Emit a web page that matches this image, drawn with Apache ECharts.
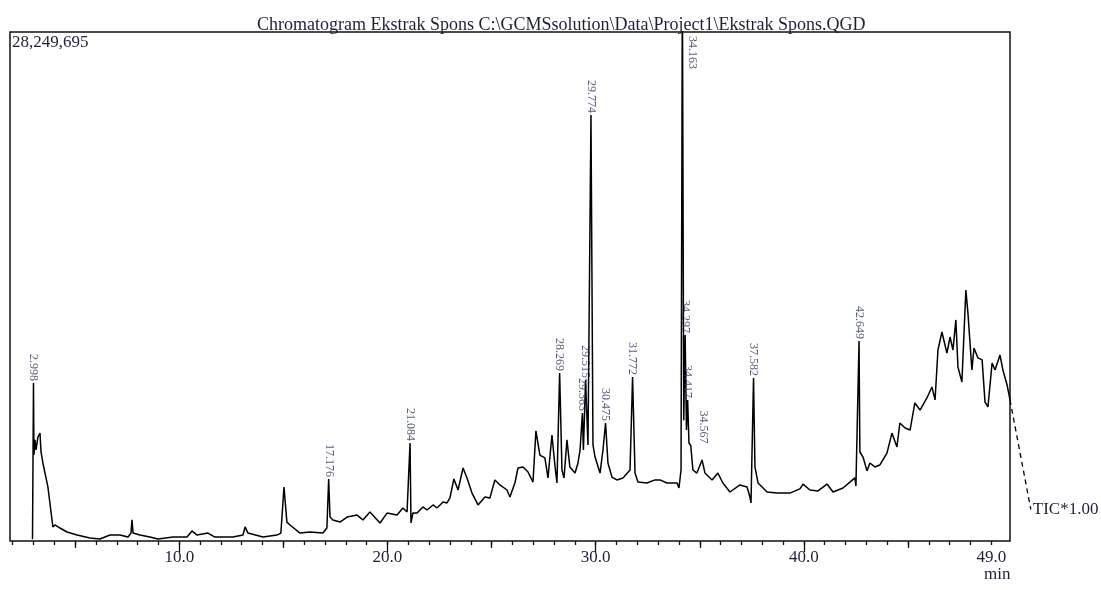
<!DOCTYPE html>
<html><head><meta charset="utf-8">
<script src="https://cdn.jsdelivr.net/npm/echarts@6/dist/echarts.min.js"></script>
<style>html,body{margin:0;padding:0;background:#fff}#c{width:1101px;height:590px}</style>
</head><body><div id="c"></div>
<script>
const chartTitle = 'Chromatogram Ekstrak Spons C:\\GCMSsolution\\Data\\Project1\\Ekstrak Spons.QGD';
const yMaxCounts = 28249695;
const xMin = 1.87, xMax = 49.9;
const xUnit = 'min';
const ticLabel = 'TIC*1.00';

// retention time (min)
const retentionTime = [2.95, 2.998, 3.02, 3.07, 3.12, 3.21, 3.31, 3.36, 3.45, 3.69, 3.93, 4.03, 4.27, 4.61, 5.09, 5.71, 6.19, 6.67, 7.15, 7.54, 7.68, 7.73, 7.78, 8.11, 8.59, 8.98, 9.70, 10.37, 10.61, 10.85, 11.38, 11.71, 12.58, 13.06, 13.16, 13.30, 14.02, 14.69, 14.88, 15.03, 15.17, 15.32, 15.80, 16.28, 16.90, 17.09, 17.176, 17.24, 17.38, 17.72, 18.06, 18.54, 18.82, 19.16, 19.64, 19.98, 20.46, 20.74, 20.94, 21.084, 21.13, 21.22, 21.42, 21.70, 21.90, 22.19, 22.38, 22.67, 22.86, 23.00, 23.19, 23.39, 23.63, 23.82, 24.06, 24.35, 24.68, 24.92, 25.16, 25.40, 25.74, 25.88, 26.12, 26.27, 26.51, 26.75, 26.99, 27.13, 27.32, 27.56, 27.71, 27.90, 28.04, 28.14, 28.269, 28.38, 28.48, 28.62, 28.76, 29.01, 29.15, 29.25, 29.363, 29.41, 29.515, 29.63, 29.774, 29.87, 29.97, 30.21, 30.35, 30.475, 30.59, 30.78, 31.02, 31.31, 31.65, 31.772, 31.89, 32.03, 32.46, 32.85, 33.09, 33.42, 33.91, 34.00, 34.10, 34.163, 34.23, 34.297, 34.36, 34.417, 34.48, 34.567, 34.67, 34.86, 35.11, 35.25, 35.59, 35.87, 36.11, 36.45, 36.93, 37.27, 37.41, 37.46, 37.582, 37.65, 37.80, 38.04, 38.23, 38.71, 39.33, 39.81, 39.96, 40.29, 40.68, 41.11, 41.40, 41.88, 42.21, 42.45, 42.50, 42.649, 42.69, 42.84, 43.03, 43.17, 43.41, 43.65, 43.99, 44.23, 44.47, 44.61, 44.86, 45.10, 45.33, 45.58, 45.91, 46.15, 46.30, 46.44, 46.63, 46.87, 47.02, 47.16, 47.30, 47.40, 47.59, 47.78, 47.88, 48.07, 48.17, 48.36, 48.56, 48.70, 48.84, 49.04, 49.18, 49.42, 49.56, 49.76, 49.90];

// TIC intensity (millions of counts)
const intensityM = [0.10, 8.77, 4.77, 5.61, 5.05, 5.77, 5.99, 4.94, 4.33, 3.00, 0.78, 0.89, 0.72, 0.50, 0.33, 0.17, 0.11, 0.33, 0.33, 0.22, 0.44, 1.17, 0.44, 0.33, 0.22, 0.11, 0.22, 0.22, 0.56, 0.33, 0.44, 0.22, 0.22, 0.33, 0.78, 0.44, 0.22, 0.33, 0.44, 3.00, 1.05, 0.89, 0.44, 0.50, 0.44, 0.72, 3.44, 1.33, 1.17, 1.05, 1.33, 1.44, 1.17, 1.61, 1.00, 1.55, 1.44, 1.83, 1.61, 5.44, 1.00, 1.55, 1.55, 1.89, 1.72, 2.00, 1.83, 2.16, 2.11, 2.39, 3.44, 2.83, 4.05, 3.50, 2.66, 2.00, 2.44, 2.39, 3.39, 3.11, 2.83, 2.44, 3.22, 4.05, 4.11, 3.83, 3.27, 6.11, 4.77, 4.61, 3.50, 5.88, 4.22, 3.22, 9.32, 3.94, 3.50, 5.61, 4.11, 3.77, 4.33, 5.05, 7.10, 5.05, 8.94, 5.33, 23.64, 5.33, 4.66, 3.77, 5.05, 6.55, 4.33, 3.55, 3.39, 3.50, 3.94, 9.10, 3.77, 3.27, 3.22, 3.39, 3.39, 3.22, 3.22, 2.94, 3.94, 31.0, 6.70, 11.43, 6.16, 7.83, 5.44, 5.30, 3.94, 3.77, 4.50, 3.77, 3.39, 3.77, 3.22, 2.72, 3.11, 3.00, 2.44, 2.11, 9.05, 4.11, 3.22, 2.94, 2.72, 2.66, 2.66, 2.89, 3.16, 2.83, 2.78, 3.16, 2.72, 2.94, 3.27, 3.50, 3.05, 11.10, 4.94, 4.66, 3.89, 4.33, 4.11, 4.22, 4.88, 5.99, 5.22, 6.55, 6.27, 6.16, 7.66, 7.27, 7.94, 8.55, 7.83, 10.60, 11.60, 10.43, 11.32, 10.60, 12.27, 9.66, 8.82, 13.93, 12.65, 9.49, 10.71, 10.16, 10.05, 7.71, 7.44, 9.88, 9.49, 10.32, 9.49, 8.66, 7.83];

// labelled peaks (retention time, min)
const peakLabelTimes = [2.998, 17.176, 21.084, 28.269, 29.363, 29.515, 29.774, 30.475, 31.772, 34.163, 34.297, 34.417, 34.567, 37.582, 42.649];

// axis ticks
const minorTickTimes = [2,3,4,5,6,7,8,9,10,11,12,13,14,15,16,17,18,19,20,21,22,23,24,25,26,27,28,29,30,31,32,33,34,35,36,37,38,39,40,41,42,43,44,45,46,47,48,49];
const midTickTimes = [5, 15, 25, 35, 45];
const majorTickTimes = [10, 20, 30, 40];
const tickLabelTimes = [10, 20, 30, 40, 49];

// leader line to the TIC label
const ticLeaderTime = [49.90, 50.90];
const ticLeaderIntensity = [7.83, 1.75];

const yMax = yMaxCounts / 1e6;
const serif = '"Liberation Serif", "DejaVu Serif", serif';
const textColor = '#1e2038';
const peakColor = '#2a3460';

const trace = retentionTime.map((t, i) => [t, intensityM[i]]);
const leader = ticLeaderTime.map((t, i) => [t, ticLeaderIntensity[i]]);

// main plot box: 10..1010 px; leader grid extends 30 px further right with same scale
const gridLeft = 10, gridRight = 91, leaderExtra = 30;
const plotW = 1101 - gridLeft - gridRight;
const xMaxLeader = xMin + (xMax - xMin) * (plotW + leaderExtra) / plotW;

const peakSpecial = {
  '34.163': { position: 'bottom', align: 'left', offset: [0, -10], distance: 4 },
  '34.567': { offset: [0, -12] }
};
const peakData = peakLabelTimes.map(t => {
  const idx = retentionTime.indexOf(t);
  const v = Math.min(intensityM[idx], yMax);
  const item = { value: [t, v] };
  const sp = peakSpecial[t.toFixed(3)];
  if (sp) item.label = sp;
  return item;
});

function xAxisDef(ticks, len, labels) {
  return {
    type: 'value', min: xMin, max: xMax, position: 'bottom', gridIndex: 0,
    axisLine: { show: false, onZero: false },
    splitLine: { show: false },
    axisTick: { show: true, customValues: ticks, length: len, lineStyle: { color: '#111', width: 1.3 } },
    axisLabel: labels ? {
      show: true, customValues: labels, margin: 8,
      formatter: v => v.toFixed(1),
      fontFamily: serif, fontSize: 17, color: textColor
    } : { show: false }
  };
}

const chart = echarts.init(document.getElementById('c'), null, { renderer: 'canvas' });
chart.setOption({
  animation: false,
  backgroundColor: '#fff',
  title: {
    text: chartTitle, left: 252, top: 11,
    textStyle: { fontFamily: serif, fontSize: 18, fontWeight: 'normal', color: textColor }
  },
  grid: [
    { left: gridLeft, right: gridRight, top: 32, bottom: 49, show: true, borderColor: '#111', borderWidth: 1.5, backgroundColor: 'transparent' },
    { left: gridLeft, right: gridRight - leaderExtra, top: 32, bottom: 49, show: false }
  ],
  xAxis: [
    xAxisDef(minorTickTimes, 4, tickLabelTimes),
    xAxisDef(midTickTimes, 7, null),
    xAxisDef(majorTickTimes, 11, null),
    { type: 'value', gridIndex: 1, min: xMin, max: xMaxLeader, show: false }
  ],
  yAxis: [
    {
      type: 'value', min: 0, max: yMax, gridIndex: 0,
      axisLine: { show: false }, axisTick: { show: false }, splitLine: { show: false },
      axisLabel: {
        show: true, inside: true, customValues: [yMax], margin: 2,
        formatter: v => Math.round(v * 1e6).toLocaleString('en-US'),
        verticalAlign: 'top', padding: [2, 0, 0, 0],
        fontFamily: serif, fontSize: 17, color: textColor
      }
    },
    { type: 'value', gridIndex: 1, min: 0, max: yMax, show: false }
  ],
  graphic: [{
    type: 'text', left: 984, top: 566,
    style: { text: xUnit, font: '17px ' + serif, fill: textColor }
  }],
  series: [
    {
      type: 'line', data: trace, xAxisIndex: 0, yAxisIndex: 0, showSymbol: false, symbol: 'none',
      lineStyle: { color: '#000', width: 1.5 }, clip: true, z: 3
    },
    {
      type: 'line', data: leader, xAxisIndex: 3, yAxisIndex: 1, showSymbol: false, symbol: 'none', clip: false,
      lineStyle: { color: '#000', width: 1.3, type: [5, 4] },
      endLabel: { show: true, formatter: ticLabel, distance: 2, fontFamily: serif, fontSize: 17, color: textColor }
    },
    {
      type: 'scatter', data: peakData, xAxisIndex: 0, yAxisIndex: 0, symbolSize: 0, z: 4,
      label: {
        show: true, formatter: p => p.value[0].toFixed(3),
        rotate: -90, position: 'top', align: 'right', verticalAlign: 'middle', distance: 2,
        fontFamily: serif, fontSize: 12, color: peakColor
      }
    }
  ]
});
</script>
</body></html>
